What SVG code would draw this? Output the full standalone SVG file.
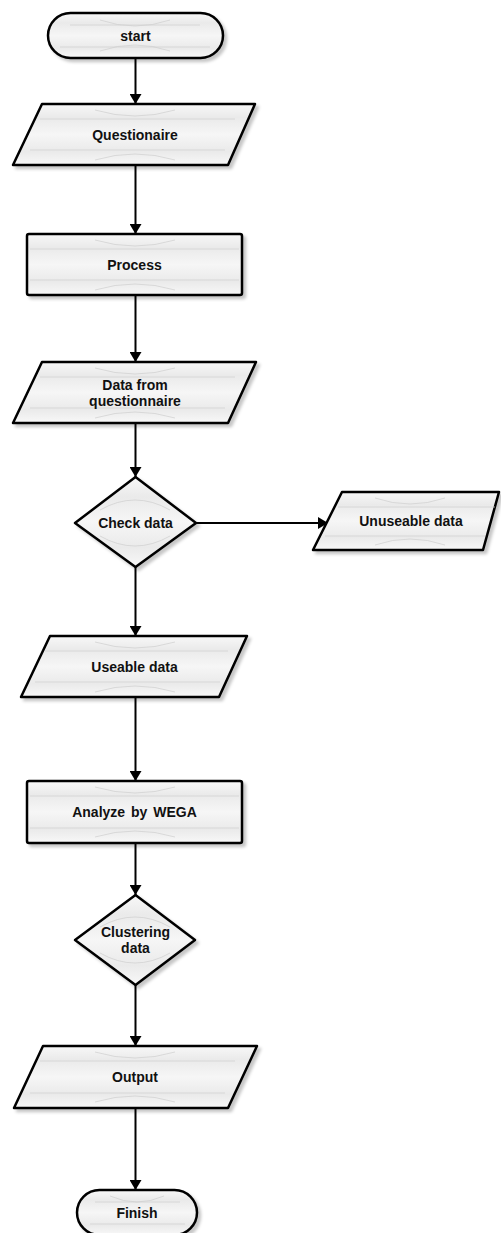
<svg xmlns="http://www.w3.org/2000/svg" width="501" height="1233" viewBox="0 0 501 1233">
  <defs>
    <linearGradient id="fillGrad" x1="0" y1="0" x2="0" y2="1">
      <stop offset="0" stop-color="#f8f8f8"/>
      <stop offset="0.22" stop-color="#eaeaea"/>
      <stop offset="0.5" stop-color="#f6f6f6"/>
      <stop offset="0.78" stop-color="#eaeaea"/>
      <stop offset="1" stop-color="#f8f8f8"/>
    </linearGradient>
    <filter id="shadow" x="-10%" y="-10%" width="125%" height="130%">
      <feDropShadow dx="3" dy="3" stdDeviation="1.5" flood-color="#000" flood-opacity="0.22"/>
    </filter>
    <marker id="arrow" viewBox="0 0 10 12" refX="10" refY="6" markerWidth="10" markerHeight="12" markerUnits="userSpaceOnUse" orient="auto">
      <path d="M0,0 L10,6 L0,12 z" fill="#000"/>
    </marker>
  </defs>
  <style>
    .shape { fill: url(#fillGrad); stroke: #000; stroke-width: 2.5; stroke-linejoin: round; filter: url(#shadow); }
    .tex { fill: none; stroke: #cfcfcf; stroke-width: 0.7; }
    .label { font-family: "Liberation Sans", Arial, sans-serif; font-weight: bold; font-size: 14px; fill: #111; text-anchor: middle; dominant-baseline: central; }
    .conn { fill: none; stroke: #000; stroke-width: 2; marker-end: url(#arrow); }
  </style>

  <rect width="501" height="1233" fill="#ffffff"/>

  <!-- connectors -->
  <g id="connectors">
    <path class="conn" d="M135.5,58 V104"/>
    <path class="conn" d="M135.5,165 V234"/>
    <path class="conn" d="M135.5,295 V362"/>
    <path class="conn" d="M135.5,423 V477"/>
    <path class="conn" d="M196,523 H328"/>
    <path class="conn" d="M135.5,567 V636"/>
    <path class="conn" d="M135.5,697 V781"/>
    <path class="conn" d="M135.5,843 V895"/>
    <path class="conn" d="M135.5,985 V1046"/>
    <path class="conn" d="M135.5,1108 V1190"/>
  </g>

  <!-- start terminator -->
  <g id="start">
    <rect class="shape" x="48" y="13" width="175" height="45" rx="22.5" ry="22.5"/>
    <path class="tex" d="M70,25 H200 M60,47 H210 M100,20 Q135,32 170,20 M100,51 Q135,39 170,51"/>
    <text class="label" x="135.5" y="35.5">start</text>
  </g>

  <!-- Questionaire data shape -->
  <g id="questionaire">
    <path class="shape" d="M42,104 H255 L228,165 H13 Z"/>
    <path class="tex" d="M40,119 H235 M30,150 H225 M95,110 Q135,122 175,110 M95,160 Q135,148 175,160"/>
    <text class="label" x="135" y="134.5">Questionaire</text>
  </g>

  <!-- Process box -->
  <g id="process">
    <rect class="shape" x="27" y="234" width="215" height="61" rx="2" ry="2"/>
    <path class="tex" d="M30,249 H239 M30,280 H239 M95,240 Q135,252 175,240 M95,290 Q135,278 175,290"/>
    <text class="label" x="134.5" y="264.5">Process</text>
  </g>

  <!-- Data from questionnaire -->
  <g id="data-from-questionnaire">
    <path class="shape" d="M42,362 H256 L228,423 H13 Z"/>
    <path class="tex" d="M40,377 H235 M30,408 H225 M95,368 Q135,380 175,368 M95,418 Q135,406 175,418"/>
    <text class="label" x="135" y="384.5">Data from</text>
    <text class="label" x="135" y="400.5">questionnaire</text>
  </g>

  <!-- Check data decision -->
  <g id="check-data">
    <path class="shape" d="M135.5,477 L196,523 L135.5,567 L75,523 Z"/>
    <path class="tex" d="M100,510 Q135,490 170,510 M100,536 Q135,556 170,536"/>
    <text class="label" x="135.5" y="523">Check data</text>
  </g>

  <!-- Unuseable data -->
  <g id="unuseable-data">
    <path class="shape" d="M342,492 H499 L483,550 H313 Z"/>
    <path class="tex" d="M338,507 H495 M325,536 H485 M375,498 Q410,510 445,498 M375,545 Q410,533 445,545"/>
    <text class="label" x="411" y="521">Unuseable data</text>
  </g>

  <!-- Useable data -->
  <g id="useable-data">
    <path class="shape" d="M50,636 H247 L219,697 H21 Z"/>
    <path class="tex" d="M45,651 H228 M35,682 H220 M95,642 Q135,654 175,642 M95,692 Q135,680 175,692"/>
    <text class="label" x="134.5" y="666.5">Useable data</text>
  </g>

  <!-- Analyze by WEGA -->
  <g id="analyze">
    <rect class="shape" x="27" y="781" width="215" height="62" rx="2" ry="2"/>
    <path class="tex" d="M30,796 H239 M30,828 H239 M95,787 Q135,799 175,787 M95,837 Q135,825 175,837"/>
    <text class="label" x="134.5" y="812" word-spacing="2">Analyze by WEGA</text>
  </g>

  <!-- Clustering data decision -->
  <g id="clustering-data">
    <path class="shape" d="M135.5,895 L195,940 L135.5,985 L75,940 Z"/>
    <path class="tex" d="M100,927 Q135,907 170,927 M100,953 Q135,973 170,953"/>
    <text class="label" x="135.5" y="932">Clustering</text>
    <text class="label" x="135.5" y="948">data</text>
  </g>

  <!-- Output -->
  <g id="output">
    <path class="shape" d="M43,1046 H257 L228,1108 H14 Z"/>
    <path class="tex" d="M40,1061 H235 M30,1093 H225 M95,1052 Q135,1064 175,1052 M95,1102 Q135,1090 175,1102"/>
    <text class="label" x="135" y="1076.5">Output</text>
  </g>

  <!-- Finish terminator -->
  <g id="finish">
    <rect class="shape" x="77" y="1190" width="120" height="45" rx="22.5" ry="22.5"/>
    <path class="tex" d="M95,1202 H180 M90,1224 H185 M110,1196 Q137,1208 164,1196"/>
    <text class="label" x="137" y="1212.5">Finish</text>
  </g>
</svg>
